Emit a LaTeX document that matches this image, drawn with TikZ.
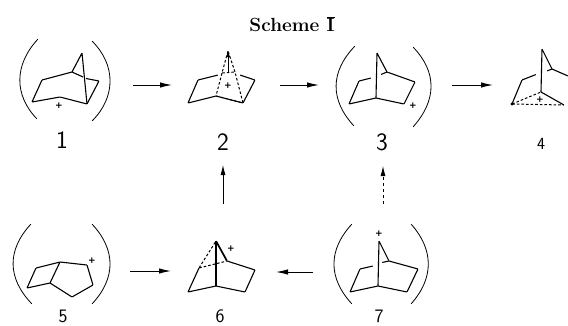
\documentclass[tikz,border=0pt]{standalone}
\usepackage{fontspec}
\newfontfamily\chgfont{DejaVu Sans}
\usetikzlibrary{arrows.meta}
\begin{document}
\begin{tikzpicture}[x=1pt,y=-1pt]
	\tikzset{vtx/.style={inner sep=0pt, minimum size=0pt}}
	\tikzset{bond/.style={line width=1.1pt, line join=round}}
	\tikzset{hash/.style={line width=1pt, dash pattern=on 2.6pt off 2pt}}
	\tikzset{brak/.style={line width=0.8pt}}
	\tikzset{rxn/.style={line width=1pt, -{Latex[length=12pt,width=5.5pt]}}}
	\tikzset{rxnup/.style={line width=0.8pt, -{Latex[length=10pt,width=5pt]}}}
	\tikzset{chg/.style={inner sep=0pt, font=\fontsize{9}{9}\selectfont\chgfont\bfseries}}
	\tikzset{num/.style={inner sep=0pt, font=\fontsize{25}{25}\selectfont\sffamily}}
	\tikzset{numlow/.style={inner sep=0pt, font=\fontsize{19}{19}\selectfont\sffamily}}
	\useasboundingbox (0,0) rectangle (568,325);

	\node[inner sep=0pt, font=\fontsize{19}{19}\selectfont\bfseries] (title) at (292,24) {Scheme $\overline{\mbox{I}}$};

	% 1
	\node[vtx] (a1) at (32,102) {};
	\node[vtx] (a2) at (42,80) {};
	\node[vtx] (a3) at (72,72) {};
	\node[vtx] (a4) at (82,53) {};
	\node[vtx] (a5) at (87,104) {};
	\node[vtx] (a6) at (99,81) {};
	\node[vtx] (a7) at (60,97) {};
	\coordinate (a8) at (83,77);
	\coordinate (a9) at (86,78.5);
	\draw[bond] (a7) -- (a1) -- (a2) -- (a3) -- (a4) -- (a5) -- (a7);
	\draw[bond] (a3) -- (a8);
	\draw[bond] (a9) -- (a6) -- (a5);
	\node[chg] (p1) at (59,106) {+};
	\node[vtx] (l1a) at (38,39) {};
	\node[vtx] (l1b) at (37,119) {};
	\node[vtx] (r1a) at (92,41) {};
	\node[vtx] (r1b) at (92,121) {};
	\draw[brak] (l1a) .. controls (14,65) and (14,95) .. (l1b);
	\draw[brak] (r1a) .. controls (116,65) and (116,97) .. (r1b);
	\node[num] (n1) at (62,140) {1};

	% 2
	\node[vtx] (b1) at (188,103) {};
	\node[vtx] (b2) at (198,80) {};
	\node[vtx] (b3) at (218,75) {};
	\node[vtx] (b4) at (216,96) {};
	\node[vtx] (b5) at (243,103) {};
	\node[vtx] (b6) at (255,80) {};
	\node[vtx] (b7) at (240,75) {};
	\node[vtx] (b8) at (228,51) {};
	\node[vtx] (b9) at (222,73) {};
	\node[vtx] (b10) at (235,72) {};
	\node[vtx] (b11) at (228,72) {};
	\draw[bond] (b3) -- (b2) -- (b1) -- (b4) -- (b5) -- (b6) -- (b7);
	\draw[hash] (b8) -- (b9) -- (b4) -- (b5) -- (b10) -- (b8);
	\draw[hash] (b9) -- (b10);
	\draw[line width=1pt, -{Latex[length=6pt,width=4.5pt]}] (b11) -- (b8);
	\node[chg] (p2) at (228,86) {+};
	\node[num] (n2) at (223,142) {2};

	% 3
	\node[vtx] (c1) at (349,104) {};
	\node[vtx] (c2) at (359,81) {};
	\node[vtx] (c3) at (371,78) {};
	\node[vtx] (c4) at (381,74.5) {};
	\node[vtx] (c5) at (387,72) {};
	\node[vtx] (c6) at (377,53) {};
	\node[vtx] (c7) at (376,98) {};
	\node[vtx] (c8) at (415,82) {};
	\node[vtx] (c9) at (404,104) {};
	\draw[bond] (c3) -- (c2) -- (c1) -- (c7) -- (c9) -- (c8) -- (c5) -- (c4);
	\draw[bond] (c5) -- (c6) -- (c7);
	\node[chg] (p3) at (413,106) {+};
	\node[vtx] (l3a) at (355,46) {};
	\node[vtx] (l3b) at (354,126) {};
	\node[vtx] (r3a) at (413,47) {};
	\node[vtx] (r3b) at (413,127) {};
	\draw[brak] (l3a) .. controls (330,72) and (330,100) .. (l3b);
	\draw[brak] (r3a) .. controls (437,72) and (437,100) .. (r3b);
	\node[num] (n3) at (382,142) {3};

	% 4
	\node[vtx] (d1) at (512,104) {};
	\node[vtx] (d2) at (522,80) {};
	\node[vtx] (d3) at (536,74.5) {};
	\node[vtx] (d4) at (542,49) {};
	\node[vtx] (d5) at (552,69) {};
	\node[vtx] (d6) at (568,76) {};
	\node[vtx] (d7) at (547,71) {};
	\node[vtx] (d8) at (541,92) {};
	\node[vtx] (d9) at (564,105) {};
	\draw[bond] (d3) -- (d2) -- (d1);
	\draw[bond] (d8) -- (d4) -- (d5) -- (d6);
	\draw[bond] (d7) -- (d5);
	\draw[hash] (d1) -- (d8);
	\draw[hash] (d1) -- (d9);
	\draw[bond] (d8) -- (d9);
	\fill (d1) circle (1.7pt);
	\node[chg] (p4) at (540,100) {+};
	\node[inner sep=0pt, font=\fontsize{17}{17}\selectfont\sffamily] (n4) at (541,144) {4};

	% 5
	\node[vtx] (e1) at (27,288) {};
	\node[vtx] (e2) at (36,268) {};
	\node[vtx] (e3) at (60,262) {};
	\node[vtx] (e4) at (50,283) {};
	\node[vtx] (e5) at (87,265) {};
	\node[vtx] (e6) at (93,285) {};
	\node[vtx] (e7) at (72,297) {};
	\draw[bond] (e1) -- (e2) -- (e3) -- (e4) -- (e1);
	\draw[bond] (e3) -- (e5) -- (e6) -- (e7) -- (e4);
	\node[chg] (p5) at (92,261) {+};
	\node[vtx] (l5a) at (31,224) {};
	\node[vtx] (l5b) at (32,304) {};
	\node[vtx] (r5a) at (92,224) {};
	\node[vtx] (r5b) at (92,304) {};
	\draw[brak] (l5a) .. controls (7,250) and (7,278) .. (l5b);
	\draw[brak] (r5a) .. controls (116,250) and (116,278) .. (r5b);
	\node[numlow] (n5) at (63,316) {5};

	% 6
	\node[vtx] (f1) at (188,292) {};
	\node[vtx] (f2) at (199,268) {};
	\node[vtx] (f3) at (216,241) {};
	\node[vtx] (f4) at (216,286) {};
	\node[vtx] (f5) at (245,292) {};
	\node[vtx] (f6) at (255,270) {};
	\node[vtx] (f7) at (227,261) {};
	\draw[bond] (f2) -- (f1) -- (f4) -- (f5) -- (f6) -- (f7);
	\draw[bond] (f4) -- (f3);
	\draw[hash] (f2) -- (f3);
	\draw[hash] (f2) -- (f7);
	\draw[line width=1.7pt] (f3) -- (f7);
	\node[chg] (p6) at (231,249) {+};
	\node[numlow] (n6) at (220,316) {6};

	% 7
	\node[vtx] (g1) at (350,292) {};
	\node[vtx] (g2) at (360,269) {};
	\node[vtx] (g3) at (373,266) {};
	\node[vtx] (g4) at (382,262.5) {};
	\node[vtx] (g5) at (389,261) {};
	\node[vtx] (g6) at (379,241) {};
	\node[vtx] (g7) at (378,286) {};
	\node[vtx] (g8) at (418,269) {};
	\node[vtx] (g9) at (407,292) {};
	\draw[bond] (g3) -- (g2) -- (g1) -- (g7) -- (g9) -- (g8) -- (g5) -- (g4);
	\draw[bond] (g5) -- (g6) -- (g7);
	\node[chg] (p7) at (379,234) {+};
	\node[vtx] (l7a) at (352,224) {};
	\node[vtx] (l7b) at (352,304) {};
	\node[vtx] (r7a) at (411,224) {};
	\node[vtx] (r7b) at (411,304) {};
	\draw[brak] (l7a) .. controls (328,250) and (328,278) .. (l7b);
	\draw[brak] (r7a) .. controls (434,250) and (434,278) .. (r7b);
	\node[numlow] (n7) at (379,316) {7};

	% arrows
	\coordinate (s12) at (133,85);
	\coordinate (t12) at (172,85);
	\coordinate (s23) at (280,85);
	\coordinate (t23) at (319,85);
	\coordinate (s34) at (452,85);
	\coordinate (t34) at (493,85);
	\coordinate (s56) at (130,271);
	\coordinate (t56) at (171,271);
	\coordinate (s76) at (313,272);
	\coordinate (t76) at (276,272);
	\coordinate (s62) at (223,204);
	\coordinate (t62) at (223,165);
	\coordinate (s73) at (383,204);
	\coordinate (t73) at (383,166);
	\draw[rxn] (s12) -- (t12);
	\draw[rxn] (s23) -- (t23);
	\draw[rxn] (s34) -- (t34);
	\draw[rxn] (s56) -- (t56);
	\draw[rxn] (s76) -- (t76);
	\draw[rxnup] (s62) -- (t62);
	\draw[rxnup, dashed] (s73) -- (t73);
\end{tikzpicture}
\end{document}
